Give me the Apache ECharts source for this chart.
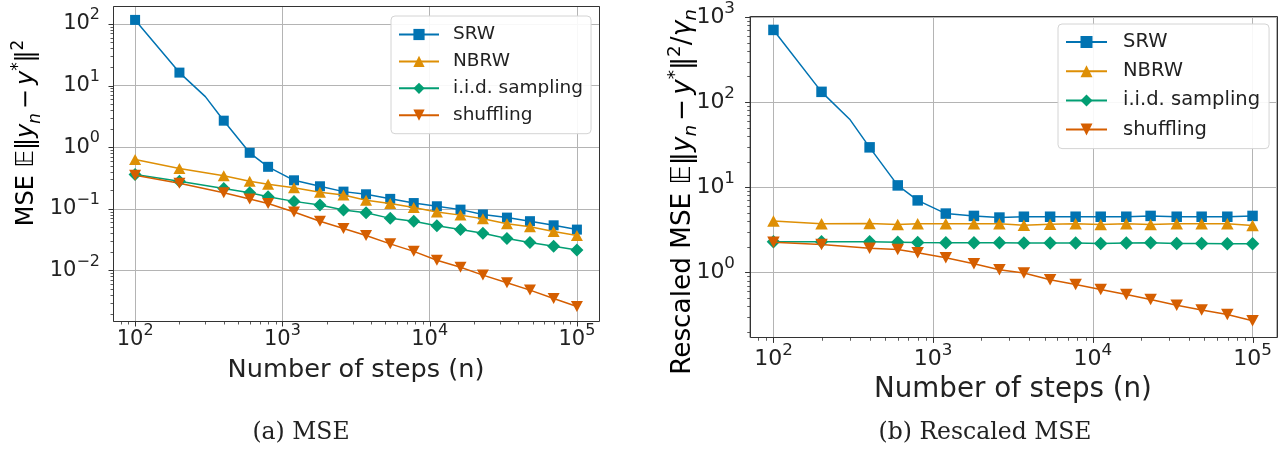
<!DOCTYPE html>
<html>
<head>
<meta charset="utf-8">
<script src="https://cdn.jsdelivr.net/npm/echarts@6/dist/echarts.min.js"></script>
<style>
  html, body { margin: 0; padding: 0; background: #fff; }
  #chart { width: 1288px; height: 450px; }
</style>
</head>
<body>
<div id="chart"></div>
<script>
// Step counts where markers are drawn
const steps = [100, 200, 400, 600, 800, 1200, 1800, 2600, 3700, 5400, 7800, 11200, 16200, 23000, 33500, 48000, 69500, 100000];
// SRW curve also has an unmarked sample at n = 300 where it bends
const srwSteps = [100, 200, 300, 400, 600, 800, 1200, 1800, 2600, 3700, 5400, 7800, 11200, 16200, 23000, 33500, 48000, 69500, 100000];

// (a) MSE
const mseSRW  = [116, 16.2, 6.6, 2.69, 0.81, 0.48, 0.29, 0.232, 0.19, 0.172, 0.145, 0.124, 0.11, 0.097, 0.081, 0.072, 0.063, 0.054, 0.046];
const mseNBRW = [0.63, 0.45, 0.343, 0.28, 0.25, 0.219, 0.186, 0.167, 0.138, 0.122, 0.105, 0.089, 0.079, 0.069, 0.057, 0.051, 0.043, 0.037];
const mseIID  = [0.36, 0.28, 0.214, 0.182, 0.157, 0.132, 0.115, 0.096, 0.086, 0.07, 0.063, 0.053, 0.046, 0.040, 0.033, 0.0285, 0.0248, 0.0214];
const mseShuf = [0.35, 0.26, 0.182, 0.144, 0.122, 0.089, 0.063, 0.048, 0.037, 0.027, 0.0204, 0.0146, 0.0113, 0.0084, 0.0063, 0.0048, 0.0035, 0.0026];

// (b) Rescaled MSE
const rescSRW  = [705, 132, 63, 29.4, 10.5, 7.0, 4.9, 4.6, 4.4, 4.5, 4.5, 4.5, 4.5, 4.5, 4.6, 4.5, 4.5, 4.5, 4.6];
const rescNBRW = [4.0, 3.72, 3.75, 3.65, 3.72, 3.72, 3.72, 3.72, 3.58, 3.68, 3.72, 3.65, 3.72, 3.65, 3.72, 3.72, 3.72, 3.55];
const rescIID  = [2.29, 2.29, 2.29, 2.26, 2.24, 2.23, 2.23, 2.23, 2.21, 2.21, 2.21, 2.18, 2.21, 2.23, 2.18, 2.18, 2.16, 2.16];
const rescShuf = [2.26, 2.12, 1.92, 1.85, 1.70, 1.48, 1.26, 1.07, 0.98, 0.82, 0.72, 0.63, 0.55, 0.48, 0.41, 0.36, 0.32, 0.27];

const seriesNames = ['SRW', 'NBRW', 'i.i.d. sampling', 'shuffling'];
const seriesColors = ['#0173B2', '#DE8F05', '#029E73', '#D55E00'];

// Axis limits (log10 exponents)
const xLim = [1.85, 5.15];
const yLimA = [-2.82, 2.29];
const yLimB = [-0.76, 3.012];

const FONT = 'DejaVu Sans';
const INK = '#222';

const markerSet = new Set(steps);
const pow10 = e => Math.pow(10, e);

function lineSeries(gi, idx, xs, ys, symbol, size, rotate) {
  const color = seriesColors[idx];
  return {
    type: 'line', name: seriesNames[idx], xAxisIndex: gi, yAxisIndex: gi,
    data: xs.map((x, i) => markerSet.has(x) ? [x, ys[i]] : { value: [x, ys[i]], symbol: 'none' }),
    symbol, symbolSize: size, symbolRotate: rotate || 0, showSymbol: true,
    lineStyle: { color, width: 1.5 },
    itemStyle: { color },
    emphasis: { disabled: true },
    z: 2 + idx * 0.01
  };
}

// Frame, major and minor log ticks drawn through the axis scales
function decorSeries(gi, xr, yr, s) {
  return {
    type: 'custom', xAxisIndex: gi, yAxisIndex: gi, silent: true, clip: false, z: 5,
    data: [[1000, 1]],
    renderItem(params, api) {
      const bl = api.coord([xr[0], yr[0]]);
      const tr = api.coord([xr[1], yr[1]]);
      const x0 = Math.round(bl[0]) + 0.5, y0 = Math.round(bl[1]) + 0.5;
      const x1 = Math.round(tr[0]) + 0.5, y1 = Math.round(tr[1]) + 0.5;
      const children = [];
      const tickStyle = (w) => ({ stroke: '#333', lineWidth: w });
      for (let k = Math.floor(Math.log10(xr[0])); k <= Math.ceil(Math.log10(xr[1])); k++) {
        for (let m = 1; m <= 9; m++) {
          const v = m * pow10(k);
          if (v < xr[0] || v > xr[1]) continue;
          const px = Math.round(api.coord([v, yr[0]])[0]) + 0.5;
          const len = (m === 1 ? 5 : 3) * s;
          children.push({ type: 'line', shape: { x1: px, y1: y0, x2: px, y2: y0 + len }, style: tickStyle(m === 1 ? 1 : 0.8) });
        }
      }
      for (let k = Math.floor(Math.log10(yr[0])); k <= Math.ceil(Math.log10(yr[1])); k++) {
        for (let m = 1; m <= 9; m++) {
          const v = m * pow10(k);
          if (v < yr[0] || v > yr[1]) continue;
          const py = Math.round(api.coord([xr[0], v])[1]) + 0.5;
          const len = (m === 1 ? 5 : 3) * s;
          children.push({ type: 'line', shape: { x1: x0 - len, y1: py, x2: x0, y2: py }, style: tickStyle(m === 1 ? 1 : 0.8) });
        }
      }
      children.push({ type: 'rect', shape: { x: x0, y: y1, width: x1 - x0, height: y0 - y1 },
        style: { fill: null, stroke: '#333', lineWidth: 1 } });
      return { type: 'group', children };
    }
  };
}

function decadeLabel(v) {
  const e = Math.log10(v);
  const r = Math.round(e);
  if (Math.abs(e - r) > 1e-6) return '';
  return '{b|10}{s|' + (r < 0 ? '\u2212' + (-r) : r) + '}';
}
function tickRich(fs) {
  return {
    b: { fontFamily: FONT, fontSize: fs, color: INK, lineHeight: 34, verticalAlign: 'middle' },
    s: { fontFamily: FONT, fontSize: fs * 0.76, color: INK, lineHeight: 16, verticalAlign: 'top' }
  };
}

function xAxisCfg(gi, fs, nameFs, margin, gap) {
  return {
    type: 'log', logBase: 10, gridIndex: gi, min: pow10(xLim[0]), max: pow10(xLim[1]),
    axisLine: { show: false }, axisTick: { show: false }, minorTick: { show: false },
    splitLine: { show: true, lineStyle: { color: '#b4b4b4', width: 1 } },
    minorSplitLine: { show: false },
    axisLabel: { formatter: decadeLabel, rich: tickRich(fs), margin },
    name: 'Number of steps (n)', nameLocation: 'middle', nameGap: gap,
    nameTextStyle: { fontFamily: FONT, fontSize: nameFs, color: INK, lineHeight: 30 }
  };
}
function yAxisCfg(gi, lim, fs, margin) {
  return {
    type: 'log', logBase: 10, gridIndex: gi, min: pow10(lim[0]), max: pow10(lim[1]),
    axisLine: { show: false }, axisTick: { show: false }, minorTick: { show: false },
    splitLine: { show: true, lineStyle: { color: '#b4b4b4', width: 1 } },
    minorSplitLine: { show: false },
    axisLabel: { formatter: decadeLabel, rich: tickRich(fs), margin, align: 'right' }
  };
}

function legendCfg(left, top, fs, itemW, itemH, gap, textPad, padding) {
  return {
    data: seriesNames, orient: 'vertical', left, top,
    itemWidth: itemW, itemHeight: itemH, itemGap: gap, padding,
    backgroundColor: 'rgba(255,255,255,0.9)', borderColor: '#d4d4d4', borderWidth: 1, borderRadius: 4,
    selectedMode: false,
    formatter: name => '{g|}{n|' + name + '}',
    textStyle: {
      fontFamily: FONT, fontSize: fs, color: INK, lineHeight: itemH,
      rich: {
        g: { width: textPad, lineHeight: itemH },
        n: { fontFamily: FONT, fontSize: fs, color: INK, lineHeight: itemH }
      }
    }
  };
}

// Rotated y-axis titles with math-style sub/superscripts
function titleRich(fs) {
  return {
    t:   { fontFamily: FONT, fontSize: fs, color: INK, lineHeight: 34, verticalAlign: 'middle' },
    op:  { fontFamily: FONT, fontSize: fs, color: INK, lineHeight: 34, verticalAlign: 'middle', padding: [0, 4, 0, 4] },
    it:  { fontFamily: FONT, fontSize: fs, fontStyle: 'italic', color: INK, lineHeight: 34, verticalAlign: 'middle' },
    sub: { fontFamily: FONT, fontSize: fs * 0.7, fontStyle: 'italic', color: INK, lineHeight: 22, verticalAlign: 'bottom' },
    sup: { fontFamily: FONT, fontSize: fs * 0.7, color: INK, lineHeight: 22, verticalAlign: 'top' }
  };
}
const mseLabel = '{t|MSE }{it|\uD835\uDD3C}{t|\u2016}{it|y}{sub|n}{op|\u2212}{it|y}{sup|*}{t|\u2016}{sup|2}';
const rescLabel = '{t|Rescaled MSE }{it|\uD835\uDD3C}{t|\u2016}{it|y}{sub|n}{op|\u2212}{it|y}{sup|*}{t|\u2016}{sup|2}{t|/}{it|\u03B3}{sub|n}';

const chart = echarts.init(document.getElementById('chart'), null, { renderer: 'canvas' });
chart.setOption({
  animation: false,
  backgroundColor: '#fff',
  grid: [
    { left: 113, top: 6, width: 486, height: 315, containLabel: false },
    { left: 749.5, top: 15, width: 527, height: 322, containLabel: false }
  ],
  xAxis: [xAxisCfg(0, 21, 25.6, 2, 34), xAxisCfg(1, 22, 27.7, 5, 38)],
  yAxis: [yAxisCfg(0, yLimA, 21, 13), yAxisCfg(1, yLimB, 22, 14.5)],
  legend: [
    legendCfg(391, 16, 18.5, 40, 14, 7.9, 9, [9, 8, 9, 7]),
    legendCfg(1058, 24, 19.5, 41, 15, 9.2, 11, [8, 9, 9, 7])
  ],
  series: [
    lineSeries(0, 0, srwSteps, mseSRW, 'rect', 10),
    lineSeries(0, 1, steps, mseNBRW, 'triangle', [12, 11]),
    lineSeries(0, 2, steps, mseIID, 'diamond', [13, 13]),
    lineSeries(0, 3, steps, mseShuf, 'triangle', [12, 11], 180),
    lineSeries(1, 0, srwSteps, rescSRW, 'rect', 10.5),
    lineSeries(1, 1, steps, rescNBRW, 'triangle', [12.5, 11.5]),
    lineSeries(1, 2, steps, rescIID, 'diamond', [13.5, 13.5]),
    lineSeries(1, 3, steps, rescShuf, 'triangle', [12.5, 11.5], 180),
    decorSeries(0, [pow10(xLim[0]), pow10(xLim[1])], [pow10(yLimA[0]), pow10(yLimA[1])], 1),
    decorSeries(1, [pow10(xLim[0]), pow10(xLim[1])], [pow10(yLimB[0]), pow10(yLimB[1])], 1.085)
  ],
  graphic: [
    { type: 'text', x: 27, y: 133, rotation: Math.PI / 2,
      style: { text: mseLabel, rich: titleRich(24), align: 'center', verticalAlign: 'middle' } },
    { type: 'text', x: 683, y: 192, rotation: Math.PI / 2,
      style: { text: rescLabel, rich: titleRich(26.3), align: 'center', verticalAlign: 'middle' } },
    { type: 'text', x: 301, y: 433,
      style: { text: '(a) MSE', fontFamily: 'DejaVu Serif', fontSize: 23.5, fill: INK, align: 'center', verticalAlign: 'middle' } },
    { type: 'text', x: 985, y: 433,
      style: { text: '(b) Rescaled MSE', fontFamily: 'DejaVu Serif', fontSize: 23.5, fill: INK, align: 'center', verticalAlign: 'middle' } }
  ]
});
</script>
</body>
</html>
